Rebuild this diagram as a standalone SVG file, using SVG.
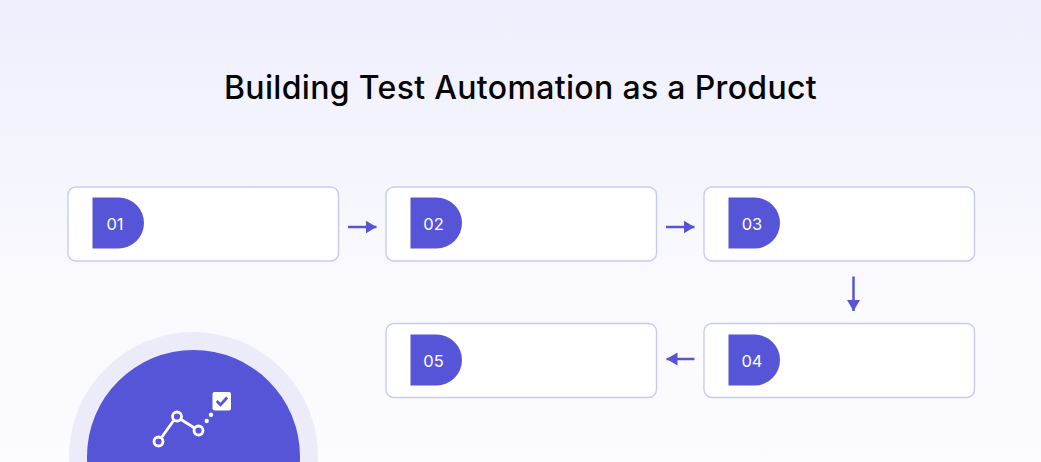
<svg xmlns="http://www.w3.org/2000/svg" width="1041" height="462" viewBox="0 0 1041 462">
<defs>
<linearGradient id="bg" x1="0" y1="0" x2="0" y2="1"><stop offset="0" stop-color="#efeffd"/><stop offset="0.6" stop-color="#f9f9fe"/><stop offset="1" stop-color="#fcfcff"/></linearGradient>
<marker id="ah" markerUnits="userSpaceOnUse" markerWidth="12" markerHeight="14" refX="11" refY="7" orient="auto"><path d="M0 0.500L11 7L0 13.500Z" fill="#5755d4"/></marker>
</defs>
<style>
.card{fill:#fff;stroke:#c9c9f5;stroke-width:1.400}
.tab{fill:#5755d7}
.num{font-family:Inter,"Liberation Sans",sans-serif;font-size:16.500px;fill:#fff;text-anchor:middle}
.conn{stroke:#5755d4;stroke-width:2.500;fill:none;marker-end:url(#ah)}
.ic{stroke:#fff;stroke-width:2.800;fill:none}
</style>
<rect width="1041" height="462" fill="url(#bg)"/>
<text x="520.500" y="98.500" font-family="Inter,'Liberation Sans',sans-serif" font-size="32" font-weight="450" letter-spacing="0.330" fill="#050505" text-anchor="middle">Building Test Automation as a Product</text>
<g id="node-01"><rect class="card" x="68" y="187" width="270.500" height="74" rx="8"/><path class="tab" d="M92.500 197.500H118.500a25.500 25.500 0 0 1 0 51H92.500Z"/><text class="num" x="115" y="230">01</text></g>
<g id="node-02"><rect class="card" x="386" y="187" width="270.500" height="74" rx="8"/><path class="tab" d="M410.500 197.500H436.500a25.500 25.500 0 0 1 0 51H410.500Z"/><text class="num" x="433.500" y="230">02</text></g>
<g id="node-03"><rect class="card" x="704" y="187" width="270.500" height="74" rx="8"/><path class="tab" d="M728.500 197.500H754.500a25.500 25.500 0 0 1 0 51H728.500Z"/><text class="num" x="752" y="230">03</text></g>
<g id="node-04"><rect class="card" x="704" y="323.500" width="270.500" height="74" rx="8"/><path class="tab" d="M728.500 334.500H754.500a25.500 25.500 0 0 1 0 51H728.500Z"/><text class="num" x="752" y="367">04</text></g>
<g id="node-05"><rect class="card" x="386" y="323.500" width="270.500" height="74" rx="8"/><path class="tab" d="M410.500 334.500H436.500a25.500 25.500 0 0 1 0 51H410.500Z"/><text class="num" x="433.500" y="367">05</text></g>
<g id="connectors">
<path class="conn" d="M348 227H376.500"/>
<path class="conn" d="M666 227H694.500"/>
<path class="conn" d="M853.500 276.500V311"/>
<path class="conn" d="M694.500 359H666.500"/>
</g>
<g id="badge">
<circle cx="193.500" cy="456.500" r="124.500" fill="#ebebfa"/>
<circle cx="193.500" cy="456.500" r="106.500" fill="#5755d7"/>
<path class="ic" d="M161.500 437.500L174 420M181 419.500L194.500 428"/>
<circle class="ic" cx="158.500" cy="441.500" r="4.500"/>
<circle class="ic" cx="177" cy="416.500" r="4.500"/>
<circle class="ic" cx="198.500" cy="430.500" r="4.500"/>
<circle cx="206.700" cy="421" r="2.200" fill="#fff"/>
<circle cx="211" cy="414.700" r="2.200" fill="#fff"/>
<rect x="212.500" y="392" width="18.500" height="18.500" rx="2" fill="#fff"/>
<path d="M216.800 401L220.500 404.800L227.200 397.500" stroke="#5755d7" stroke-width="2.800" fill="none"/>
</g>
</svg>
